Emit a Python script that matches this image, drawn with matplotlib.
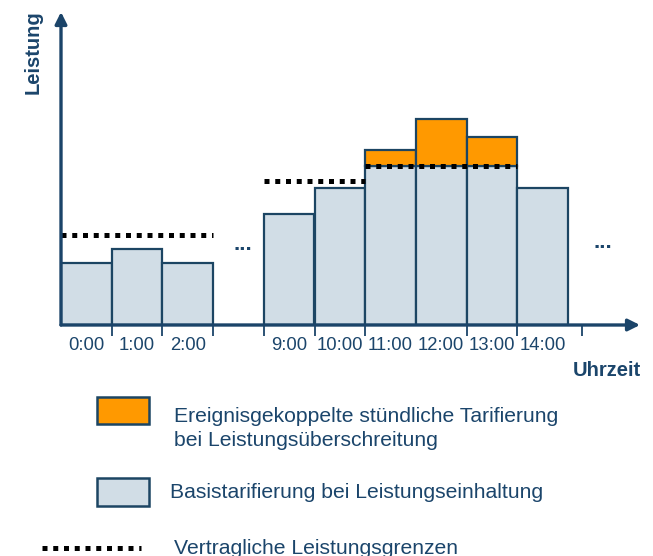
import matplotlib
matplotlib.use('Agg')
import matplotlib.pyplot as plt
from matplotlib.patches import Rectangle
from matplotlib.lines import Line2D

plt.rcParams['font.family'] = ['Liberation Sans', 'DejaVu Sans']

# hourly slots (slot 3 is left empty as the "..." gap)
HOURS      = ['0:00', '1:00', '2:00', '9:00', '10:00', '11:00', '12:00', '13:00', '14:00']
SLOTS      = [0, 1, 2, 4, 5, 6, 7, 8, 9]
BASE_LOAD  = [62, 76, 62, 111, 137, 159, 159, 159, 137]   # within contracted limit
EXCESS     = [0, 0, 0, 0, 0, 16, 47, 29, 0]               # above contracted limit

# contracted limits: (start slot, end slot, level)
LIMIT_START = [0, 4, 6]
LIMIT_END   = [3, 6, 9]
LIMIT_LEVEL = [90, 144, 159]

EDGE_TICKS = [1, 2, 3, 4, 5, 6, 8, 9, 10.28]

AXIS_C  = '#1b4469'
EDGE_C  = '#1c4563'
FILL_C  = '#d1dde6'
ORANGE  = '#ff9900'
TEXT_C  = '#1b456b'
DOTS = dict(color='black', linewidth=3.6, linestyle=(0, (1, 1.15)),
            dash_capstyle='butt', solid_capstyle='butt')

W, H = 653, 556
fig = plt.figure(figsize=(W / 100, H / 100), dpi=100)


def fx(px):
    return px / W


def fy(py):
    return 1 - py / H


# main axes: origin at pixel (61, 325), x arrow tip at 640, y arrow tip at 12
ax = fig.add_axes([fx(61), fy(325), fx(640 - 61), (325 - 12) / H])
ax.set_xlim(0, (640 - 61) / 50.7)
ax.set_ylim(0, 313)
ax.patch.set_visible(False)
for s in ax.spines.values():
    s.set_visible(False)

ax.bar(SLOTS, BASE_LOAD, width=1, align='edge', color=FILL_C,
       edgecolor=EDGE_C, linewidth=1.6, zorder=2)
exc_slots = [s for s, e in zip(SLOTS, EXCESS) if e > 0]
exc_vals = [e for e in EXCESS if e > 0]
exc_base = [b for b, e in zip(BASE_LOAD, EXCESS) if e > 0]
ax.bar(exc_slots, exc_vals, bottom=exc_base, width=1, align='edge',
       color=ORANGE, edgecolor=EDGE_C, linewidth=1.6, zorder=2)

for x0, x1, lvl in zip(LIMIT_START, LIMIT_END, LIMIT_LEVEL):
    ax.plot([x0, x1], [lvl, lvl], zorder=4, **DOTS)

# axes with arrow heads
ax.annotate('', xy=(0, 1), xytext=(0, 0), xycoords='axes fraction',
            arrowprops=dict(arrowstyle='-|>,head_length=0.7,head_width=0.35',
                            color=AXIS_C, lw=2.4, shrinkA=0, shrinkB=0), zorder=5)
ax.annotate('', xy=(1, 0), xytext=(0, 0), xycoords='axes fraction',
            arrowprops=dict(arrowstyle='-|>,head_length=0.7,head_width=0.35',
                            color=AXIS_C, lw=2.4, shrinkA=0, shrinkB=0), zorder=5)

ax.set_xticks(EDGE_TICKS)
ax.set_xticklabels([])
ax.tick_params(axis='x', which='major', length=8, width=1.3, color=AXIS_C, direction='out')
ax.set_xticks([s + 0.5 for s in SLOTS], minor=True)
ax.set_xticklabels(HOURS, minor=True)
ax.tick_params(axis='x', which='minor', length=0, pad=9, labelsize=13.3, labelcolor=TEXT_C)
ax.set_yticks([])

ax.text(3.58, 80, '...', ha='center', va='center', fontsize=16,
        fontweight='bold', color=TEXT_C)
ax.text(10.68, 82, '...', ha='center', va='center', fontsize=16,
        fontweight='bold', color=TEXT_C)

fig.text(fx(33), fy(52), 'Leistung', rotation=90, ha='center', va='center',
         fontsize=14.5, fontweight='bold', color=TEXT_C)
fig.text(fx(641), fy(370), 'Uhrzeit', ha='right', va='center',
         fontsize=14.5, fontweight='bold', color=TEXT_C)

# legend
fig.add_artist(Rectangle((fx(97), fy(424)), fx(52), 27 / H, transform=fig.transFigure,
                         facecolor=ORANGE, edgecolor=EDGE_C, linewidth=1.8))
fig.text(fx(174), fy(417), 'Ereignisgekoppelte stündliche Tarifierung',
         ha='left', va='center', fontsize=15.2, color=TEXT_C)
fig.text(fx(174), fy(441), 'bei Leistungsüberschreitung',
         ha='left', va='center', fontsize=15.2, color=TEXT_C)

fig.add_artist(Rectangle((fx(97), fy(506)), fx(52), 28 / H, transform=fig.transFigure,
                         facecolor=FILL_C, edgecolor=EDGE_C, linewidth=1.8))
fig.text(fx(170), fy(492), 'Basistarifierung bei Leistungseinhaltung',
         ha='left', va='center', fontsize=15.2, color=TEXT_C)

fig.add_artist(Line2D([fx(42), fx(141)], [fy(548), fy(548)],
                      transform=fig.transFigure, **DOTS))
fig.text(fx(174), fy(548), 'Vertragliche Leistungsgrenzen',
         ha='left', va='center', fontsize=15.2, color=TEXT_C)

fig.savefig('out.png', dpi=100)
